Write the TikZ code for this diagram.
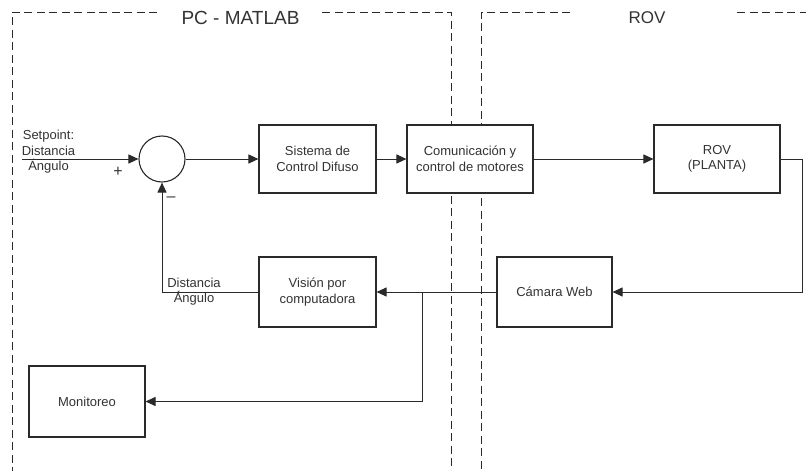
\documentclass[tikz,border=0pt]{standalone}
\usepackage{fontspec}
\setmainfont{Liberation Sans}
\usetikzlibrary{arrows.meta}
\definecolor{ink}{HTML}{333333}
\definecolor{lin}{HTML}{2A2A2A}
\begin{document}
\begin{tikzpicture}[x=1pt,y=-1pt,
  blk/.style={draw=lin,line width=1.1pt,fill=white,minimum width=#1,align=center,
    font=\fontsize{13}{15.5}\selectfont,text=ink,inner sep=0pt},
  blk/.default=117,
  conn/.style={draw=lin,line width=1pt,-{Triangle[length=10pt,width=9pt]}},
  region/.style={draw=lin,line width=1pt,dash pattern=on 8pt off 4.5pt},
  lbl/.style={font=\fontsize{13}{15.5}\selectfont,text=ink,align=center,inner sep=0pt},
  ttl/.style={font=\fontsize{19}{22}\selectfont,text=ink,inner sep=0pt}]
\useasboundingbox[fill=white] (0,0) rectangle (806,471);
% regions
\draw[region] (157,12) -- (12,12) -- (12,471);
\draw[region] (322,12) -- (451,12) -- (451,471);
\draw[region] (570,12) -- (481,12) -- (481,471);
\draw[region] (737,12) -- (806,12);
\node[ttl] (tpc) at (240.5,17.5) {PC - MATLAB};
\node[ttl,font=\fontsize{17}{20}\selectfont] (trov) at (647,17.5) {ROV};
% blocks
\node[draw=lin,line width=1.1pt,fill=white,circle,minimum size=46pt,inner sep=0pt] (sum) at (162,159) {};
\node[blk=117,minimum height=68pt] (fuzzy) at (317.5,159) {Sistema de\\Control Difuso};
\node[blk=126,minimum height=68pt] (com) at (470,159) {Comunicación y\\control de motores};
\node[blk=126,minimum height=68pt] (rov) at (717,159) {ROV\\(PLANTA)};
\node[blk=115,minimum height=70pt] (cam) at (554.5,292) {Cámara Web};
\node[blk=117,minimum height=70pt] (vis) at (317.5,292) {Visión por\\computadora};
\node[blk=116,minimum height=71pt] (mon) at (87,401.5) {Monitoreo};
% labels
\node[lbl] (sp) at (48.5,152) {Setpoint:\\Distancia\\Ángulo};
\node[lbl,font=\fontsize{16}{18}\selectfont] (plus) at (118,172) {+};
\node[lbl,font=\fontsize{16}{18}\selectfont] (minus) at (171,199) {–};
\node[lbl] (fb) at (194,291.5) {Distancia\\Ángulo};
% coordinates
\coordinate (in) at (22,159);
\coordinate (r1) at (802,159);
\coordinate (r2) at (802,292);
\coordinate (j) at (422,292);
\coordinate (j2) at (422,401.5);
\coordinate (f1) at (162,292);
% connectors
\draw[conn] (in) -- (sum.west);
\draw[conn] (sum.east) -- (fuzzy.west);
\draw[conn] (fuzzy.east) -- (com.west);
\draw[conn] (com.east) -- (rov.west);
\draw[conn] (rov.east) -- (r1) -- (r2) -- (cam.east);
\draw[conn] (cam.west) -- (vis.east);
\draw[conn] (j) -- (j2) -- (mon.east);
\draw[conn] (vis.west) -- (f1) -- (sum.south);
\end{tikzpicture}
\end{document}
